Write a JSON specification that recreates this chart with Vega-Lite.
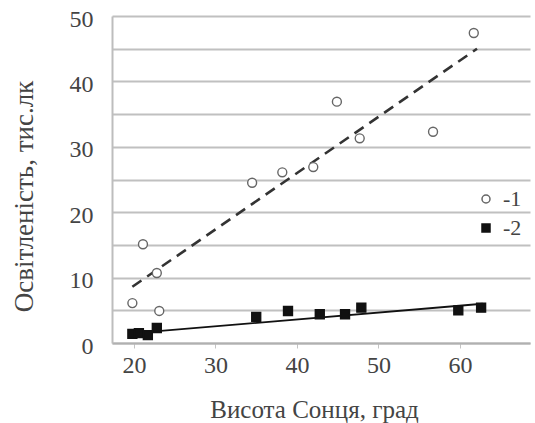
{
  "$schema": "https://vega.github.io/schema/vega-lite/v6.json",
  "autosize": "none",
  "width": 418,
  "height": 327,
  "padding": {"left": 112, "top": 16, "right": 5, "bottom": 80},
  "background": "white",
  "config": {
    "view": {"stroke": null},
    "font": "Liberation Serif",
    "axis": {"labelFont": "Liberation Serif", "titleFont": "Liberation Serif", "labelColor": "#444", "titleColor": "#444", "titleFontWeight": "normal"},
    "legend": {"labelFont": "Liberation Serif"}
  },
  "datasets": {
    "points": [
      {"h": 19.8, "e": 6.1, "s": "-1"},
      {"h": 21.1, "e": 15.1, "s": "-1"},
      {"h": 22.8, "e": 10.7, "s": "-1"},
      {"h": 23.1, "e": 4.9, "s": "-1"},
      {"h": 34.5, "e": 24.5, "s": "-1"},
      {"h": 38.2, "e": 26.1, "s": "-1"},
      {"h": 42.0, "e": 26.9, "s": "-1"},
      {"h": 44.9, "e": 36.9, "s": "-1"},
      {"h": 47.7, "e": 31.3, "s": "-1"},
      {"h": 56.7, "e": 32.3, "s": "-1"},
      {"h": 61.7, "e": 47.4, "s": "-1"},
      {"h": 19.8, "e": 1.4, "s": "-2"},
      {"h": 20.6, "e": 1.5, "s": "-2"},
      {"h": 21.7, "e": 1.2, "s": "-2"},
      {"h": 22.8, "e": 2.3, "s": "-2"},
      {"h": 35.0, "e": 4.0, "s": "-2"},
      {"h": 38.9, "e": 4.9, "s": "-2"},
      {"h": 42.8, "e": 4.4, "s": "-2"},
      {"h": 45.9, "e": 4.4, "s": "-2"},
      {"h": 47.9, "e": 5.4, "s": "-2"},
      {"h": 59.8, "e": 5.0, "s": "-2"},
      {"h": 62.6, "e": 5.4, "s": "-2"}
    ],
    "lines": [
      {"h": 19.8, "e": 8.6, "s": "-1"},
      {"h": 62.1, "e": 45.0, "s": "-1"},
      {"h": 20.0, "e": 1.5, "s": "-2"},
      {"h": 62.8, "e": 6.0, "s": "-2"}
    ]
  },
  "encoding": {
    "x": {
      "field": "h", "type": "quantitative",
      "scale": {"domain": [17.3, 68.6], "nice": false, "zero": false},
      "axis": {
        "values": [20, 30, 40, 50, 60],
        "title": "Висота Сонця, град",
        "titleFontSize": 25,
        "titleX": 202,
        "titleY": 66,
        "titleAlign": "center",
        "titleBaseline": "middle",
        "labelFontSize": 24,
        "labelPadding": 5,
        "grid": false,
        "domainColor": "#b0b0b0",
        "domainWidth": 2,
        "tickColor": "#c4c4c4",
        "tickSize": 5
      }
    },
    "y": {
      "field": "e", "type": "quantitative",
      "scale": {"domain": [0, 50], "nice": false},
      "axis": {
        "values": [0, 5, 10, 15, 20, 25, 30, 35, 40, 45, 50],
        "labelExpr": "datum.value % 10 == 0 ? datum.label : ''",
        "title": "Освітленість, тис.лк",
        "titleFontSize": 27,
        "titleAngle": -90,
        "titleX": -88,
        "titleY": 180,
        "titleAlign": "center",
        "titleBaseline": "middle",
        "labelFontSize": 24,
        "labelPadding": 19,
        "labelOffset": 3,
        "ticks": false,
        "grid": true,
        "gridColor": "#c0c0c0",
        "gridWidth": 2,
        "gridOpacity": 1,
        "domainColor": "#bdbdbd",
        "domainWidth": 2
      }
    }
  },
  "layer": [
    {
      "data": {"name": "lines"},
      "transform": [{"filter": "datum.s == '-1'"}],
      "mark": {"type": "line", "color": "#333", "strokeWidth": 2.6, "strokeDash": [11, 7]}
    },
    {
      "data": {"name": "lines"},
      "transform": [{"filter": "datum.s == '-2'"}],
      "mark": {"type": "line", "color": "#111", "strokeWidth": 1.8}
    },
    {
      "data": {"name": "points"},
      "mark": {"type": "point", "filled": true, "strokeWidth": 1.4, "opacity": 1},
      "encoding": {
        "shape": {"field": "s", "type": "nominal", "scale": {"domain": ["-1", "-2"], "range": ["circle", "square"]},
          "legend": {"title": null, "orient": "none", "legendX": 363, "legendY": 172, "labelFontSize": 22, "labelColor": "#444", "rowPadding": 7, "symbolSize": 64, "labelOffset": 6}},
        "fill": {"field": "s", "type": "nominal", "scale": {"domain": ["-1", "-2"], "range": ["white", "#111"]}},
        "stroke": {"field": "s", "type": "nominal", "scale": {"domain": ["-1", "-2"], "range": ["#666", "#111"]}},
        "size": {"value": 80}
      }
    }
  ]
}
